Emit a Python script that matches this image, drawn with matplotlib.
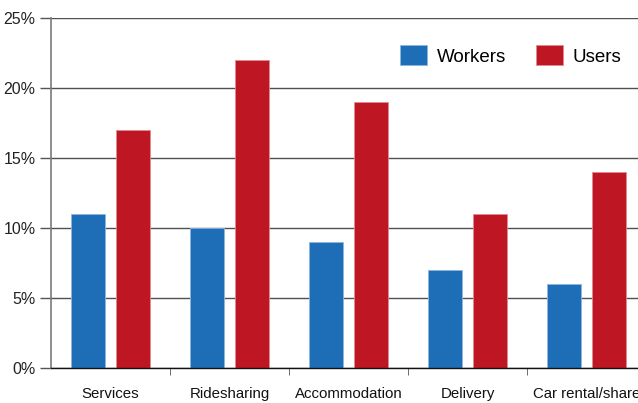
import matplotlib.pyplot as plt
import numpy as np

# ---- data ----
categories = ['Services', 'Ridesharing', 'Accommodation', 'Delivery', 'Car rental/share']
workers = [11, 10, 9, 7, 6]
users = [17, 22, 19, 11, 14]
y_ticks = [0, 5, 10, 15, 20, 25]
y_labels = ['0%', '5%', '10%', '15%', '20%', '25%']

blue = '#1d6eb7'
red = '#be1622'

plt.rcParams['font.family'] = ['Liberation Sans Narrow', 'Liberation Sans', 'DejaVu Sans']

fig = plt.figure(figsize=(6.38, 4.03), dpi=100)
# axes runs a bit past the right edge, as in the reference (cropped)
ax = fig.add_axes([51 / 638, 1 - 368 / 403, 595 / 638, 350 / 403])

x = np.arange(len(categories))
w = 0.28
ax.bar(x - 0.19, workers, w, color=blue, edgecolor='#8fb6de', linewidth=0.6, label='Workers', zorder=3)
ax.bar(x + 0.19, users, w, color=red, edgecolor='#e08a90', linewidth=0.6, label='Users', zorder=3)

ax.set_xlim(-0.5, len(categories) - 0.5)
ax.set_ylim(0, 25)
ax.set_yticks(y_ticks)
ax.set_yticklabels(y_labels, fontsize=11.5, color='#222222')
ax.yaxis.grid(True, color='#505050', linewidth=1.0, zorder=0)

# category labels centred, tick marks at the boundaries
ax.set_xticks(x)
ax.set_xticklabels(categories, fontsize=10.8, color='#111111')
ax.tick_params(axis='x', length=0, pad=14)
ax.set_xticks(np.arange(len(categories)) + 0.5, minor=True)
ax.tick_params(axis='x', which='minor', length=5, color='#555555')
ax.tick_params(axis='y', length=8, width=1, color='#555555', pad=3)

for s in ['top', 'right']:
    ax.spines[s].set_visible(False)
ax.spines['left'].set_color('#7a7a7a')
ax.spines['left'].set_linewidth(1.2)
ax.spines['bottom'].set_color('#111111')
ax.spines['bottom'].set_linewidth(1.0)
ax.spines['bottom'].set_zorder(4)

fig.legend(loc='upper left', bbox_to_anchor=(400 / 638, 1 - 45 / 403), ncol=2, frameon=False,
           fontsize=13.5, handlelength=1.45, handleheight=1.3, handletextpad=0.5,
           columnspacing=1.6, borderpad=0, borderaxespad=0)

fig.savefig('out.png', dpi=100)
